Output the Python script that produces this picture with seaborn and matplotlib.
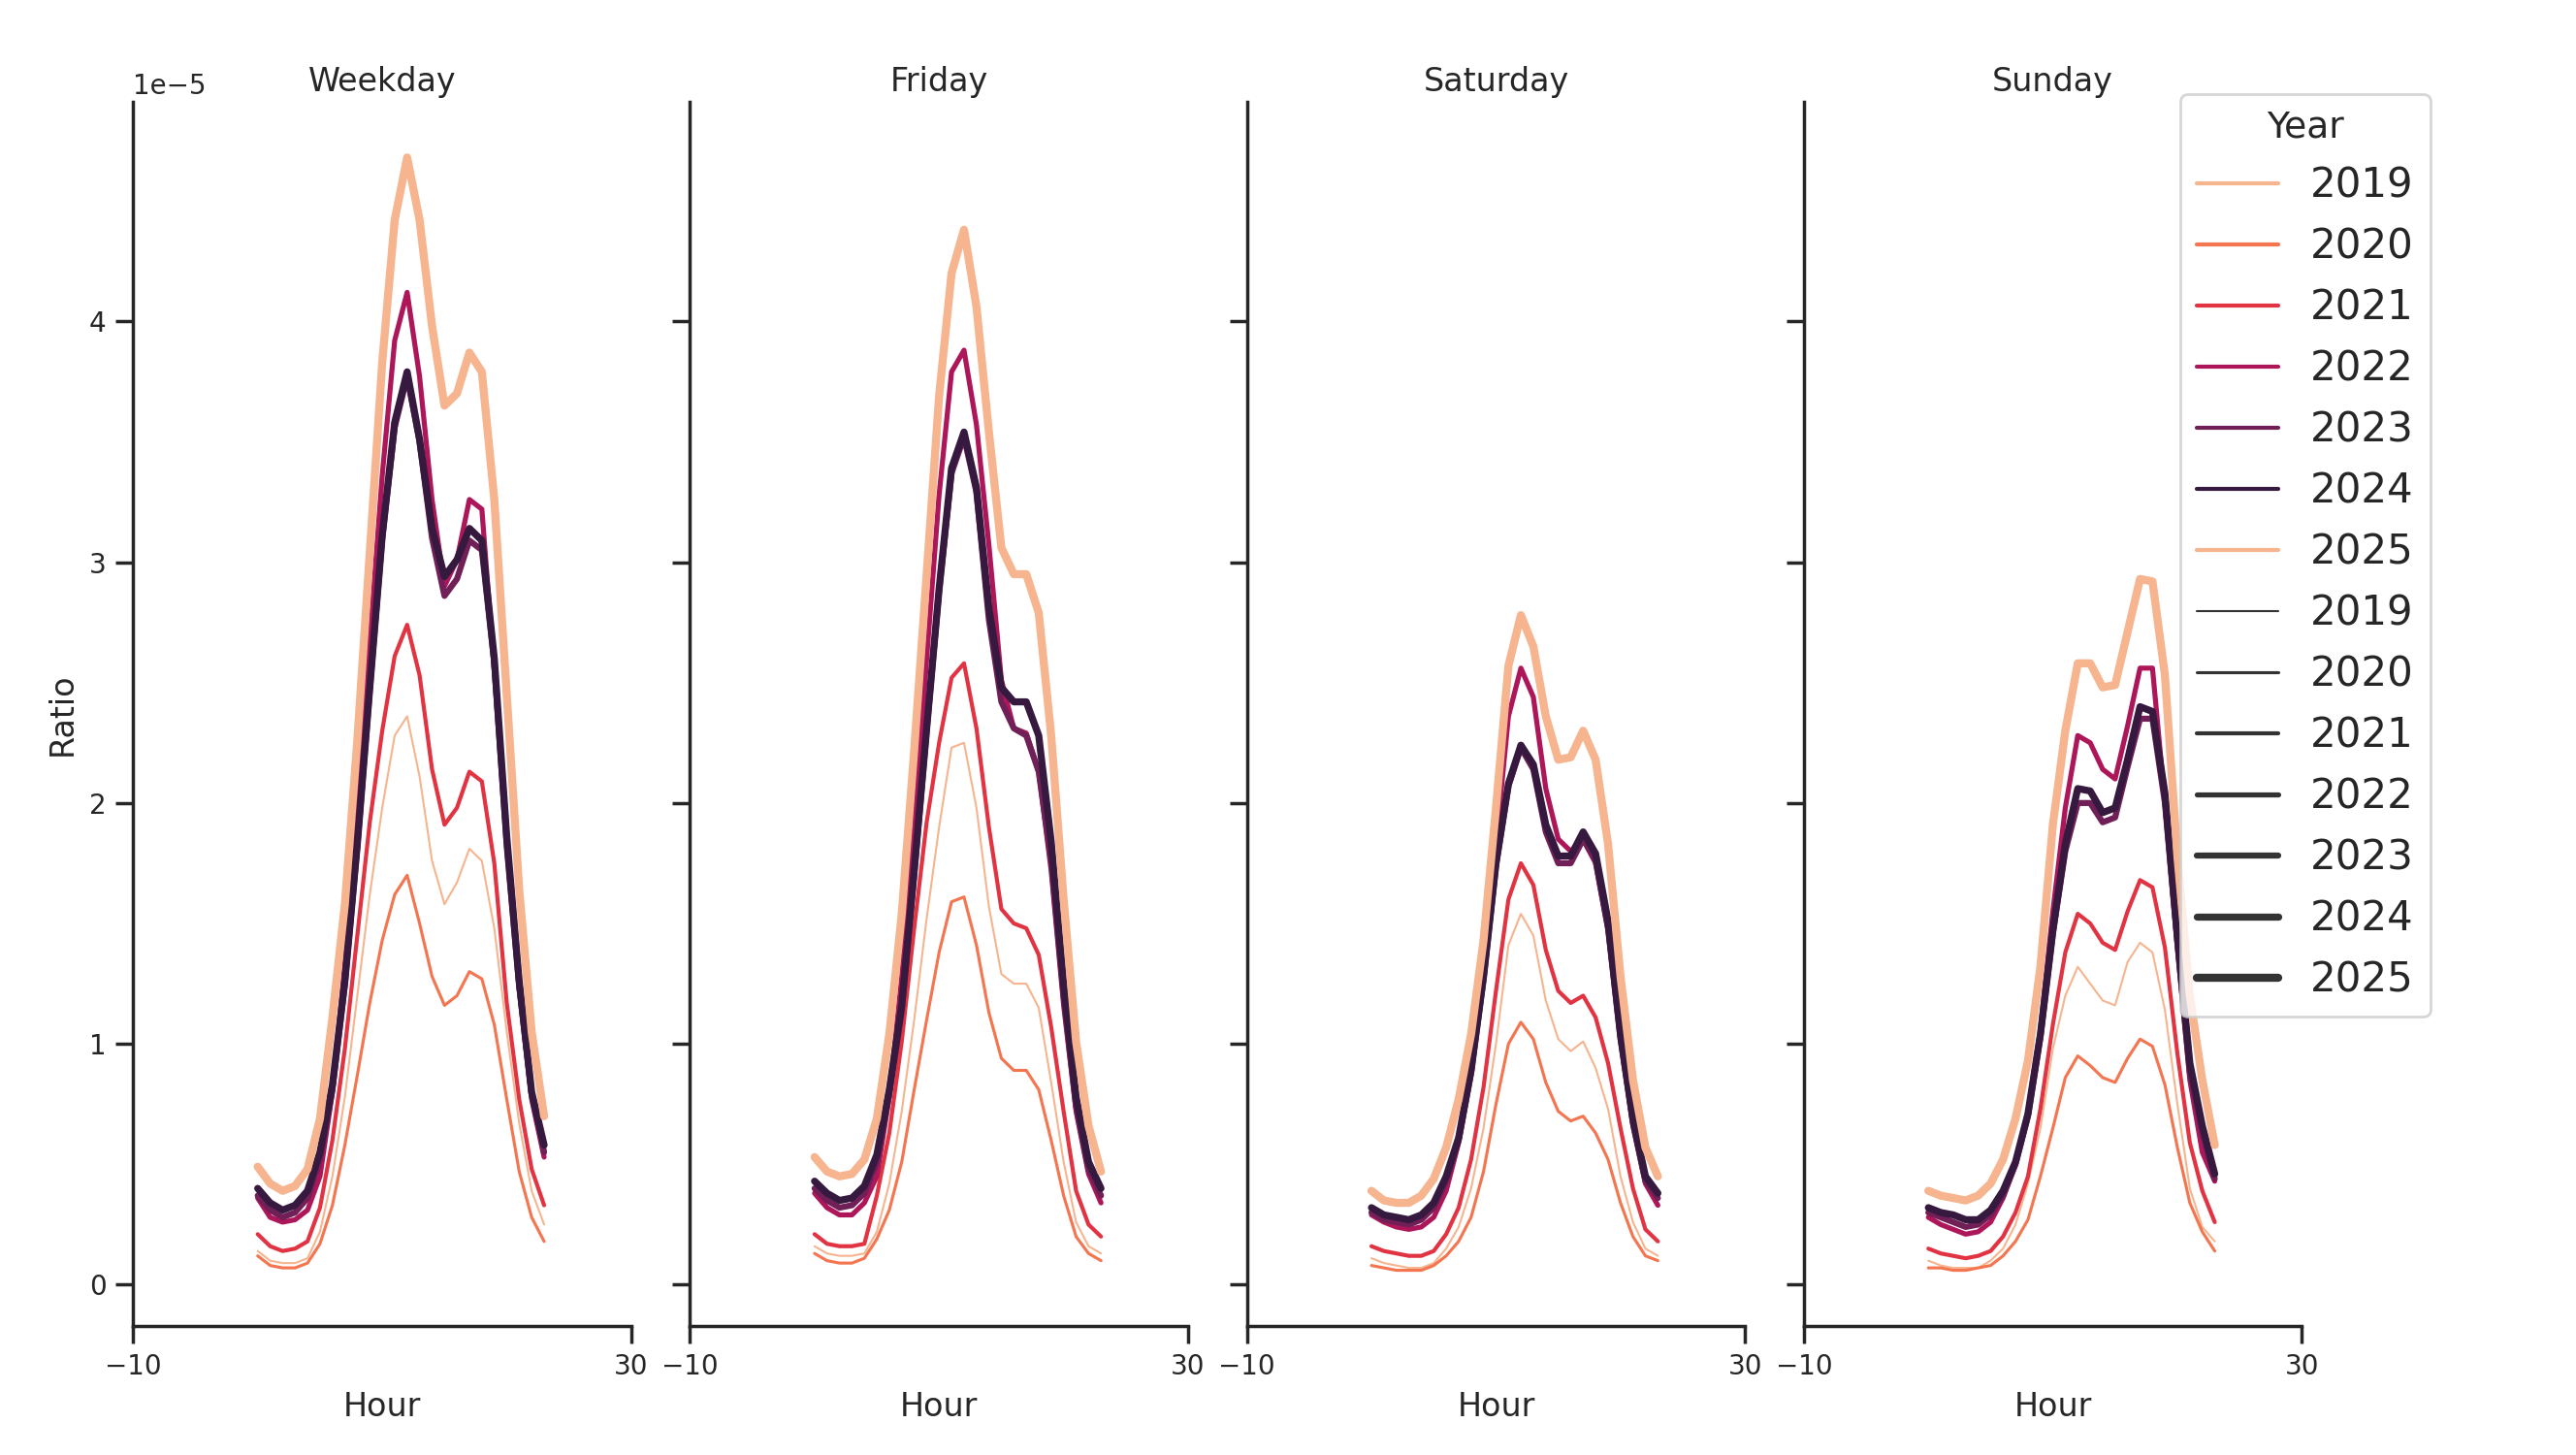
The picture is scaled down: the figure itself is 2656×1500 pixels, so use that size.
import pandas as pd
import seaborn as sns
import matplotlib
matplotlib.use("Agg")
import matplotlib.pyplot as plt

# ratio values per hour (0-23), in units of 1e-5
hours = list(range(24))
years = [2019, 2020, 2021, 2022, 2023, 2024, 2025]
day_order = ["Weekday", "Friday", "Saturday", "Sunday"]

weekday = {
    2019: [0.14, 0.10, 0.09, 0.09, 0.11, 0.22, 0.45, 0.78, 1.20, 1.62, 1.98, 2.28, 2.36, 2.11, 1.76, 1.58, 1.67, 1.81, 1.76, 1.48, 1.05, 0.67, 0.39, 0.25],
    2020: [0.12, 0.08, 0.07, 0.07, 0.09, 0.17, 0.33, 0.58, 0.87, 1.17, 1.43, 1.62, 1.70, 1.50, 1.28, 1.16, 1.20, 1.30, 1.27, 1.08, 0.77, 0.47, 0.28, 0.18],
    2021: [0.21, 0.16, 0.14, 0.15, 0.18, 0.32, 0.60, 0.98, 1.45, 1.92, 2.30, 2.61, 2.74, 2.53, 2.14, 1.91, 1.98, 2.13, 2.09, 1.75, 1.17, 0.77, 0.48, 0.33],
    2022: [0.36, 0.28, 0.26, 0.27, 0.31, 0.45, 0.80, 1.33, 1.95, 2.67, 3.36, 3.92, 4.12, 3.77, 3.26, 2.90, 3.01, 3.26, 3.22, 2.55, 1.83, 1.23, 0.77, 0.53],
    2023: [0.37, 0.31, 0.28, 0.30, 0.36, 0.52, 0.81, 1.25, 1.82, 2.47, 3.10, 3.56, 3.77, 3.50, 3.10, 2.86, 2.93, 3.09, 3.05, 2.58, 1.82, 1.24, 0.79, 0.55],
    2024: [0.40, 0.34, 0.31, 0.33, 0.39, 0.55, 0.83, 1.26, 1.83, 2.48, 3.11, 3.58, 3.79, 3.51, 3.14, 2.94, 3.01, 3.14, 3.09, 2.60, 1.86, 1.26, 0.80, 0.58],
    2025: [0.49, 0.42, 0.39, 0.41, 0.48, 0.69, 1.11, 1.58, 2.26, 3.04, 3.83, 4.42, 4.68, 4.42, 3.98, 3.65, 3.70, 3.87, 3.79, 3.26, 2.45, 1.64, 1.05, 0.70],
}

friday = {
    2019: [0.16, 0.13, 0.12, 0.12, 0.13, 0.22, 0.42, 0.72, 1.10, 1.52, 1.90, 2.23, 2.25, 1.98, 1.57, 1.29, 1.25, 1.25, 1.15, 0.84, 0.51, 0.26, 0.16, 0.13],
    2020: [0.13, 0.10, 0.09, 0.09, 0.11, 0.19, 0.31, 0.51, 0.81, 1.10, 1.38, 1.59, 1.61, 1.41, 1.13, 0.94, 0.89, 0.89, 0.81, 0.60, 0.37, 0.20, 0.13, 0.10],
    2021: [0.21, 0.17, 0.16, 0.16, 0.17, 0.37, 0.63, 1.01, 1.48, 1.92, 2.25, 2.52, 2.58, 2.31, 1.90, 1.56, 1.50, 1.48, 1.37, 1.07, 0.72, 0.39, 0.25, 0.20],
    2022: [0.38, 0.32, 0.29, 0.29, 0.34, 0.45, 0.78, 1.28, 1.89, 2.60, 3.28, 3.79, 3.88, 3.57, 3.07, 2.51, 2.31, 2.29, 2.13, 1.72, 1.16, 0.72, 0.46, 0.34],
    2023: [0.40, 0.35, 0.32, 0.33, 0.38, 0.51, 0.79, 1.14, 1.70, 2.30, 2.88, 3.37, 3.52, 3.29, 2.76, 2.42, 2.31, 2.28, 2.13, 1.76, 1.20, 0.74, 0.48, 0.37],
    2024: [0.43, 0.38, 0.35, 0.36, 0.41, 0.54, 0.81, 1.16, 1.72, 2.31, 2.89, 3.39, 3.54, 3.31, 2.81, 2.48, 2.42, 2.42, 2.28, 1.84, 1.25, 0.78, 0.51, 0.40],
    2025: [0.53, 0.47, 0.45, 0.46, 0.52, 0.69, 1.04, 1.54, 2.22, 2.95, 3.69, 4.20, 4.38, 4.06, 3.54, 3.06, 2.95, 2.95, 2.79, 2.28, 1.60, 1.01, 0.66, 0.47],
}

saturday = {
    2019: [0.11, 0.09, 0.08, 0.07, 0.07, 0.09, 0.15, 0.24, 0.40, 0.65, 1.00, 1.41, 1.54, 1.45, 1.18, 1.02, 0.97, 1.01, 0.90, 0.73, 0.45, 0.26, 0.15, 0.12],
    2020: [0.08, 0.07, 0.06, 0.06, 0.06, 0.08, 0.12, 0.18, 0.28, 0.47, 0.75, 1.00, 1.09, 1.02, 0.84, 0.72, 0.68, 0.70, 0.63, 0.52, 0.34, 0.20, 0.12, 0.10],
    2021: [0.16, 0.14, 0.13, 0.12, 0.12, 0.14, 0.21, 0.32, 0.52, 0.82, 1.22, 1.60, 1.75, 1.66, 1.39, 1.22, 1.17, 1.20, 1.11, 0.92, 0.65, 0.40, 0.23, 0.18],
    2022: [0.29, 0.26, 0.24, 0.23, 0.24, 0.28, 0.39, 0.59, 0.89, 1.32, 1.83, 2.36, 2.56, 2.44, 2.06, 1.85, 1.80, 1.85, 1.75, 1.47, 1.02, 0.66, 0.42, 0.33],
    2023: [0.30, 0.27, 0.26, 0.25, 0.27, 0.32, 0.43, 0.60, 0.88, 1.27, 1.74, 2.07, 2.23, 2.14, 1.88, 1.75, 1.75, 1.85, 1.76, 1.48, 1.02, 0.67, 0.43, 0.36],
    2024: [0.32, 0.29, 0.28, 0.27, 0.29, 0.34, 0.45, 0.61, 0.89, 1.28, 1.75, 2.08, 2.24, 2.16, 1.91, 1.78, 1.78, 1.88, 1.79, 1.51, 1.04, 0.69, 0.45, 0.38],
    2025: [0.39, 0.35, 0.34, 0.34, 0.37, 0.44, 0.57, 0.77, 1.04, 1.43, 1.98, 2.57, 2.78, 2.65, 2.36, 2.18, 2.19, 2.30, 2.18, 1.83, 1.28, 0.85, 0.57, 0.45],
}

sunday = {
    2019: [0.10, 0.08, 0.07, 0.07, 0.07, 0.10, 0.15, 0.25, 0.42, 0.65, 0.98, 1.20, 1.32, 1.25, 1.18, 1.16, 1.34, 1.42, 1.38, 1.14, 0.75, 0.40, 0.24, 0.18],
    2020: [0.07, 0.07, 0.06, 0.06, 0.07, 0.08, 0.12, 0.18, 0.27, 0.45, 0.65, 0.86, 0.95, 0.91, 0.86, 0.84, 0.94, 1.02, 0.99, 0.83, 0.57, 0.34, 0.22, 0.14],
    2021: [0.15, 0.13, 0.12, 0.11, 0.12, 0.14, 0.20, 0.30, 0.45, 0.73, 1.08, 1.38, 1.54, 1.50, 1.42, 1.39, 1.55, 1.68, 1.65, 1.40, 0.96, 0.59, 0.39, 0.26],
    2022: [0.28, 0.25, 0.23, 0.21, 0.22, 0.26, 0.36, 0.50, 0.72, 1.06, 1.55, 1.98, 2.28, 2.25, 2.14, 2.10, 2.32, 2.56, 2.56, 2.00, 1.40, 0.85, 0.55, 0.43],
    2023: [0.30, 0.28, 0.26, 0.24, 0.25, 0.29, 0.37, 0.50, 0.70, 1.03, 1.46, 1.80, 2.00, 2.00, 1.92, 1.94, 2.15, 2.35, 2.35, 2.00, 1.42, 0.88, 0.63, 0.44],
    2024: [0.32, 0.30, 0.29, 0.27, 0.27, 0.31, 0.39, 0.51, 0.71, 1.04, 1.47, 1.83, 2.06, 2.05, 1.96, 1.98, 2.18, 2.40, 2.38, 2.04, 1.45, 0.92, 0.66, 0.46],
    2025: [0.39, 0.37, 0.36, 0.35, 0.37, 0.42, 0.52, 0.69, 0.93, 1.32, 1.91, 2.30, 2.58, 2.58, 2.48, 2.49, 2.71, 2.93, 2.92, 2.53, 1.78, 1.20, 0.85, 0.58],
}

by_day = {"Weekday": weekday, "Friday": friday, "Saturday": saturday, "Sunday": sunday}

rows = []
for day in day_order:
    for year in years:
        for h, v in zip(hours, by_day[day][year]):
            rows.append({"Day": day, "Year": year, "Hour": h, "Ratio": v * 1e-5})
df = pd.DataFrame(rows)

sns.set_theme(style="ticks", context="notebook")
plt.rcParams.update({
    "font.family": ["DejaVu Sans"],
    "axes.titlesize": 12,
    "axes.labelsize": 12,
    "axes.titlepad": 4,
    "xtick.labelsize": 10,
    "ytick.labelsize": 10,
    "xtick.major.size": 6.5,
    "ytick.major.size": 6.5,
})

# six-colour palette for seven years, so it wraps around (2025 reuses 2019's colour)
palette = sns.color_palette("rocket_r", 6)

g = sns.relplot(
    data=df, x="Hour", y="Ratio", col="Day", col_order=day_order,
    hue="Year", size="Year", kind="line", palette=palette,
    height=6, aspect=0.5,
)
g.set_titles(col_template="{col_name}")
g.set(xlim=(-10, 30), xticks=[-10, 30])

g.figure.set_size_inches(13.28, 7.5)
g.figure.subplots_adjust(left=0.0517, right=0.8936, top=0.930, bottom=0.0887, wspace=0.118)

sns.move_legend(
    g, "upper left", bbox_to_anchor=(0.8464, 0.9353), borderaxespad=0,
    frameon=True, fontsize=15.1, title_fontsize=13.6,
)

g.figure.savefig("out.png", dpi=200)
